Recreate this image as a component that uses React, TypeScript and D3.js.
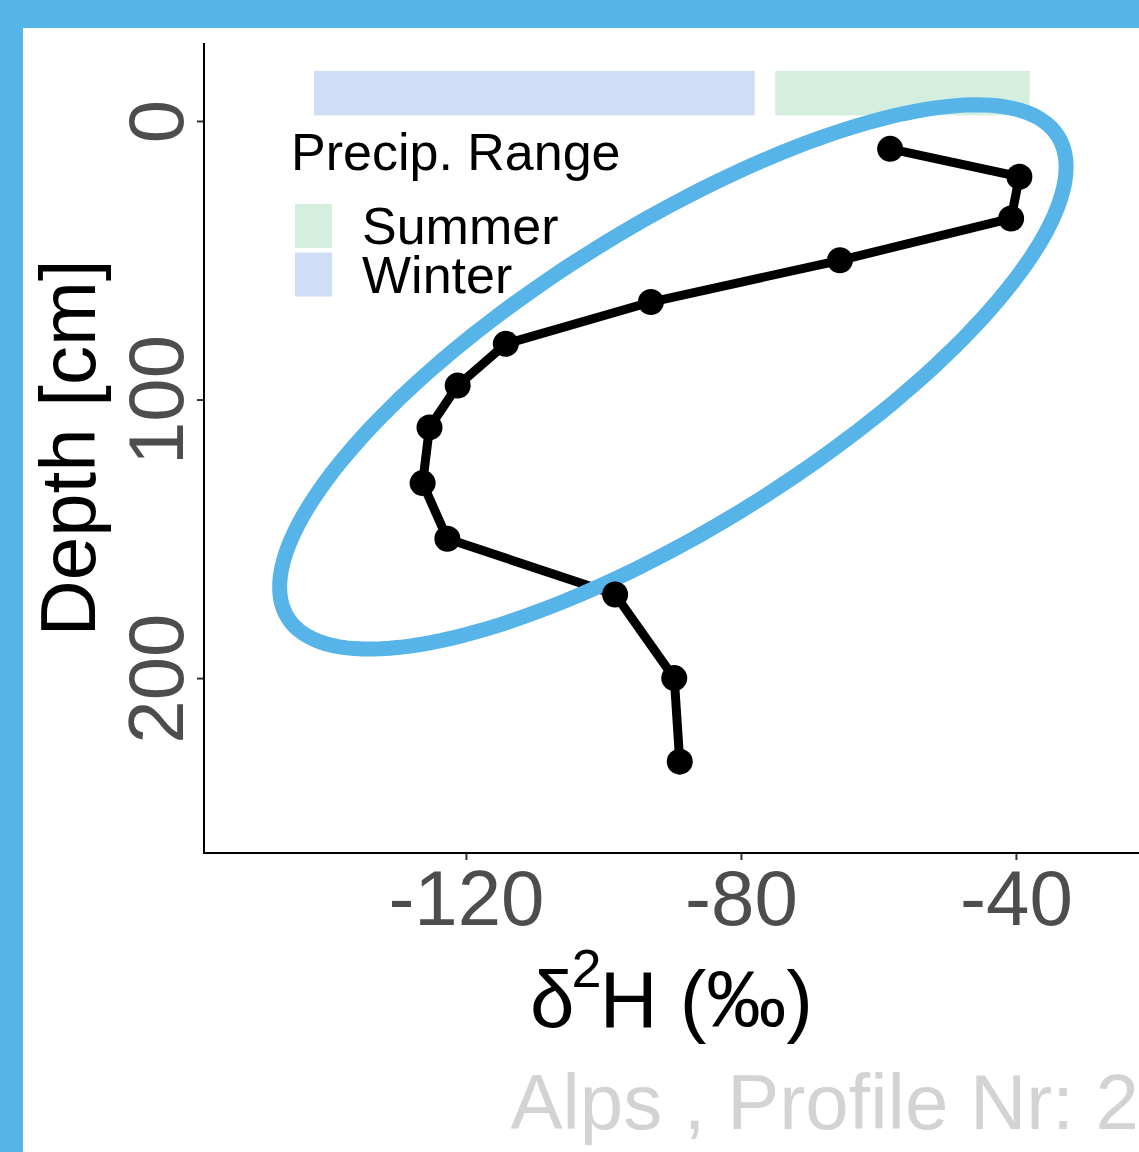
import { useEffect, useRef } from 'react';
import * as d3 from 'd3';

// Profile values (depth in cm, delta 2H in permil)
const depth = [10, 20, 35, 50, 65, 80, 95, 110, 130, 150, 170, 200, 230];
const d2H = [-58.3, -39.5, -40.7, -65.6, -93.1, -114.2, -121.2, -125.3, -126.3, -122.7, -98.3, -89.7, -88.9];

// Precipitation ranges per season
const seasons = ['Summer', 'Winter'];
const seasonColors = ['#d4efe0', '#d0ddf7'];
const rangeMin = [-75.0, -142.1];
const rangeMax = [-38.0, -78.0];
const bandTop = -18;
const bandBottom = -2;

// Ellipse summary (center, spread, correlation)
const ellipseCenter = [-89.9, 91.9];
const ellipseSd = [57.2, 97.7];
const ellipseRho = -0.772;

const xTicks = [-120, -80, -40];
const yTicks = [0, 100, 200];
const xDomain = [-158.1, -22.1];
const yDomain = [-28, 262.8];

const FONT = "'Liberation Sans', Arial, Helvetica, sans-serif";
const BLUE = '#56b4e9';

export default function App() {
  const svgRef = useRef<SVGSVGElement | null>(null);

  useEffect(() => {
    if (!svgRef.current) return;
    const W = 1139;
    const H = 1152;
    const left = 204, right = 1139, top = 43, bottom = 853;

    const root = d3.select(svgRef.current);
    root.selectAll('*').remove();
    root.attr('width', W).attr('height', H);

    // frame
    root.append('rect').attr('width', W).attr('height', H).attr('fill', BLUE);
    root.append('rect').attr('x', 23).attr('y', 28).attr('width', W).attr('height', H).attr('fill', '#ffffff');

    const x = d3.scaleLinear().domain(xDomain).range([left, right]);
    const y = d3.scaleLinear().domain(yDomain).range([top, bottom]);

    // season bars
    root.append('g')
      .selectAll('rect')
      .data(seasons)
      .join('rect')
      .attr('x', (d, i) => x(rangeMin[i]))
      .attr('width', (d, i) => x(rangeMax[i]) - x(rangeMin[i]))
      .attr('y', y(bandTop))
      .attr('height', y(bandBottom) - y(bandTop))
      .attr('fill', (d, i) => seasonColors[i]);

    // profile line
    const pts = depth.map((d, i) => [d2H[i], d] as [number, number]);
    const line = d3.line<[number, number]>().x(d => x(d[0])).y(d => y(d[1]));
    root.append('path')
      .attr('d', line(pts))
      .attr('fill', 'none')
      .attr('stroke', '#000')
      .attr('stroke-width', 9)
      .attr('stroke-linejoin', 'round');

    // ellipse
    const ts = d3.range(0, 361, 2).map(a => (a * Math.PI) / 180);
    const ell = ts.map(t => [
      ellipseCenter[0] + ellipseSd[0] * Math.cos(t),
      ellipseCenter[1] + ellipseSd[1] * (ellipseRho * Math.cos(t) + Math.sqrt(1 - ellipseRho * ellipseRho) * Math.sin(t)),
    ] as [number, number]);
    root.append('path')
      .attr('d', d3.line<[number, number]>().x(d => x(d[0])).y(d => y(d[1])).curve(d3.curveLinearClosed)(ell))
      .attr('fill', 'none')
      .attr('stroke', BLUE)
      .attr('stroke-width', 15);

    // points
    root.append('g')
      .selectAll('circle')
      .data(pts)
      .join('circle')
      .attr('cx', d => x(d[0]))
      .attr('cy', d => y(d[1]))
      .attr('r', 13)
      .attr('fill', '#000');

    // x axis
    const gx = root.append('g')
      .attr('transform', `translate(0, ${bottom})`)
      .call(d3.axisBottom(x).tickValues(xTicks).tickSize(7).tickSizeOuter(0).tickFormat(d3.format('d')));
    gx.select('.domain').remove();
    gx.selectAll('line').attr('stroke', '#333').attr('stroke-width', 2);
    gx.selectAll('text')
      .attr('y', 72)
      .attr('dy', null)
      .attr('fill', '#4d4d4d')
      .attr('font-size', '78px')
      .attr('font-family', FONT)
      .text(d => String(d).replace('−', '-'));

    // y axis
    const gy = root.append('g')
      .attr('transform', `translate(${left}, 0)`)
      .call(d3.axisLeft(y).tickValues(yTicks).tickSize(7).tickSizeOuter(0));
    gy.select('.domain').remove();
    gy.selectAll('line').attr('stroke', '#333').attr('stroke-width', 2);
    gy.selectAll('text')
      .attr('x', null)
      .attr('dy', null)
      .attr('text-anchor', 'middle')
      .attr('transform', 'translate(-21, 0) rotate(-90)')
      .attr('fill', '#4d4d4d')
      .attr('font-size', '78px')
      .attr('font-family', FONT);

    // axis lines
    root.append('line').attr('x1', left).attr('x2', left).attr('y1', top).attr('y2', bottom + 1)
      .attr('stroke', '#000').attr('stroke-width', 2);
    root.append('line').attr('x1', left - 1).attr('x2', right).attr('y1', bottom).attr('y2', bottom)
      .attr('stroke', '#000').attr('stroke-width', 2);

    // axis titles
    const xt = root.append('text')
      .attr('x', (left + right) / 2)
      .attr('y', 1027)
      .attr('text-anchor', 'middle')
      .attr('font-size', '80px')
      .attr('font-family', FONT)
      .attr('fill', '#000');
    xt.append('tspan').text('δ');
    xt.append('tspan').attr('font-size', '54px').attr('dx', -3).attr('dy', -40).text('2');
    xt.append('tspan').attr('dx', -2).attr('dy', 40).text('H (‰)');

    root.append('text')
      .attr('transform', `translate(95, ${(top + bottom) / 2}) rotate(-90)`)
      .attr('text-anchor', 'middle')
      .attr('font-size', '78px')
      .attr('font-family', FONT)
      .attr('fill', '#000')
      .text('Depth [cm]');

    // legend
    const lg = root.append('g');
    lg.append('text')
      .attr('x', 291).attr('y', 170)
      .attr('font-size', '52px').attr('font-family', FONT).attr('fill', '#000')
      .text('Precip. Range');
    seasons.forEach((s, i) => {
      lg.append('rect')
        .attr('x', 295).attr('y', 204 + i * 48.5)
        .attr('width', 37).attr('height', 44)
        .attr('fill', seasonColors[i]);
      lg.append('text')
        .attr('x', 362).attr('y', 244 + i * 49)
        .attr('font-size', '52px').attr('font-family', FONT).attr('fill', '#000')
        .text(s);
    });

    // caption
    root.append('text')
      .attr('x', 1139).attr('y', 1129)
      .attr('text-anchor', 'end')
      .attr('font-size', '78px').attr('font-family', FONT).attr('fill', '#d3d3d3')
      .text('Alps , Profile Nr: 2');
  }, []);

  return (
    <svg ref={svgRef} style={{ position: 'absolute', left: 0, top: 0, display: 'block' }} />
  );
}
